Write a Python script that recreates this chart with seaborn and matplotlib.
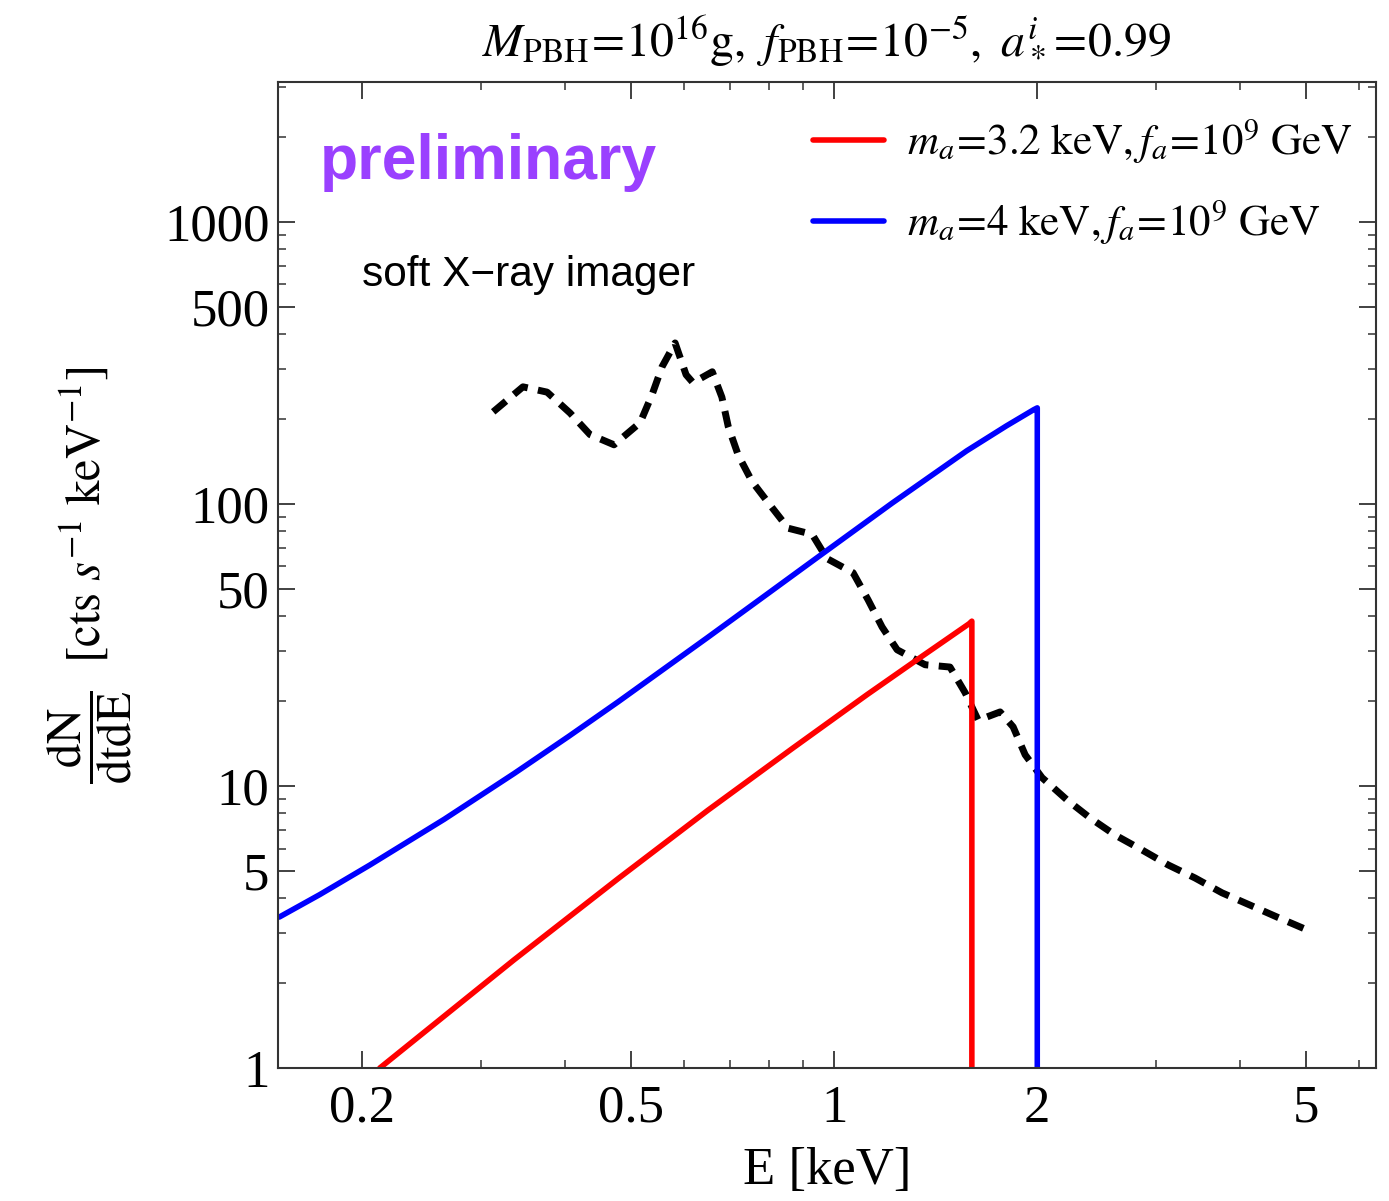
import numpy as np
import seaborn as sns
import matplotlib.pyplot as plt
from matplotlib.ticker import FixedLocator, NullFormatter, FuncFormatter

# ----- Data -----
# soft X-ray imager background (black dashed)
E_sxi = [0.3126, 0.346, 0.3757, 0.4063, 0.435, 0.472, 0.516, 0.5375, 0.556, 0.5814,
         0.6036, 0.618, 0.660, 0.682, 0.697, 0.721, 0.756, 0.804, 0.855, 0.928,
         0.976, 1.067, 1.123, 1.178, 1.240, 1.364, 1.485, 1.564, 1.635, 1.762,
         1.842, 1.919, 2.033, 2.214, 2.395, 2.608, 2.860, 3.125, 3.425, 3.756,
         4.134, 4.532, 4.986]
dN_sxi = [212, 260, 249, 210, 176, 162, 194, 244, 306, 372,
          287, 269, 294, 239, 188, 149, 120, 99, 82, 78,
          64, 57, 45.7, 36.6, 30.4, 26.9, 26.4, 21.4, 17.1, 18.3,
          16.2, 12.9, 10.7, 8.92, 7.70, 6.70, 5.93, 5.25, 4.72, 4.18,
          3.78, 3.43, 3.11]

# m_a = 3.2 keV (red)
E_red = [0.2123, 0.3357, 0.4791, 0.6501, 0.868, 1.119, 1.3266, 1.585, 1.60, 1.60]
dN_red = [1.0, 2.42, 4.70, 8.20, 13.6, 21.07, 28.0, 37.6, 38.4, 1.0]

# m_a = 4 keV (blue)
E_blue = [0.1507, 0.1730, 0.2051, 0.2645, 0.3357, 0.4046, 0.4791, 0.6501, 0.797,
          0.9447, 1.218, 1.572, 1.800, 1.976, 2.0, 2.0]
dN_blue = [3.43, 4.12, 5.24, 7.62, 11.07, 15.0, 19.9, 33.65, 48.0,
           64.6, 100.5, 154.2, 189.0, 215.8, 219, 1.0]

legend_labels = [r"$m_a\!=\!3.2\ \mathrm{keV},f_a\!=\!10^9\ \mathrm{GeV}$",
                 r"$m_a\!=\!4\ \mathrm{keV},f_a\!=\!10^9\ \mathrm{GeV}$"]
x_major = [0.2, 0.5, 1, 2, 5]
x_minor = [0.3, 0.4, 0.6, 0.7, 0.8, 0.9, 3, 4, 6]
y_major = [1, 5, 10, 50, 100, 500, 1000]
y_minor = [2, 3, 4, 6, 7, 8, 9, 20, 30, 40, 60, 70, 80, 90,
           200, 300, 400, 600, 700, 800, 900, 2000, 3000]

# ----- Style -----
sns.set_style("ticks")
plt.rcParams["font.family"] = ["Liberation Serif", "DejaVu Serif"]
plt.rcParams["mathtext.fontset"] = "stix"
plt.rcParams["text.color"] = "black"
plt.rcParams["axes.labelcolor"] = "black"

fig = plt.figure(figsize=(13.89, 12.01), dpi=100)
ax = fig.add_axes([0.2001, 0.1107, 0.7905, 0.821])

sns.lineplot(x=E_sxi, y=dN_sxi, ax=ax, color="black", lw=5.0, sort=False,
             estimator=None, linestyle=(0, (2.4, 1.5)))
sns.lineplot(x=E_red, y=dN_red, ax=ax, color="#ff0000", lw=4.0, sort=False,
             estimator=None)
sns.lineplot(x=E_blue, y=dN_blue, ax=ax, color="#0000ff", lw=4.0, sort=False,
             estimator=None)

ax.set_xscale("log")
ax.set_yscale("log")
ax.set_xlim(0.15, 6.35)
ax.set_ylim(1, 3130)

ax.xaxis.set_major_locator(FixedLocator(x_major))
ax.xaxis.set_minor_locator(FixedLocator(x_minor))
ax.yaxis.set_major_locator(FixedLocator(y_major))
ax.yaxis.set_minor_locator(FixedLocator(y_minor))
ax.xaxis.set_major_formatter(FuncFormatter(lambda v, p: f"{v:g}"))
ax.yaxis.set_major_formatter(FuncFormatter(lambda v, p: f"{v:g}"))
ax.xaxis.set_minor_formatter(NullFormatter())
ax.yaxis.set_minor_formatter(NullFormatter())

ax.tick_params(which="both", direction="in", top=True, right=True,
               color="#333333", labelcolor="black", labelsize=38)
ax.tick_params(which="major", length=12, width=1.3)
ax.tick_params(axis="y", which="major", pad=6)
ax.tick_params(axis="x", which="major", pad=12)
ax.tick_params(which="minor", length=6, width=1.1)
for s in ax.spines.values():
    s.set_color("#333333")
    s.set_linewidth(1.5)

ax.set_xlabel("E [keV]", fontsize=38, labelpad=10)
ax.set_ylabel(r"$\dfrac{\mathrm{dN}}{\mathrm{dtdE}}\ \ [\mathrm{cts}\ s^{-1}\ \mathrm{keV}^{-1}]$",
              fontsize=35, labelpad=22)
ax.set_title(r"$M_{\mathrm{PBH}}\!=\!10^{16}\mathrm{g},\ f_{\mathrm{PBH}}\!=\!10^{-5},\ a_*^i\!=\!0.99$",
             fontsize=34.5, pad=20)

ax.text(0.038, 0.918, "preliminary", transform=ax.transAxes, color="#9a40ff",
        fontsize=45, fontweight="bold", family="Liberation Sans", va="center")
ax.text(0.077, 0.804, "soft X\u2212ray imager", transform=ax.transAxes,
        color="black", fontsize=30.5, family="Liberation Sans", va="center")

lines = ax.get_lines()
ax.legend(handles=[lines[1], lines[2]], labels=legend_labels, loc="upper left",
          bbox_to_anchor=(0.487, 0.965), frameon=False, fontsize=31,
          handlelength=1.65, handletextpad=0.55, labelspacing=0.75,
          borderpad=0, borderaxespad=0)

fig.savefig("out.png", dpi=100)
